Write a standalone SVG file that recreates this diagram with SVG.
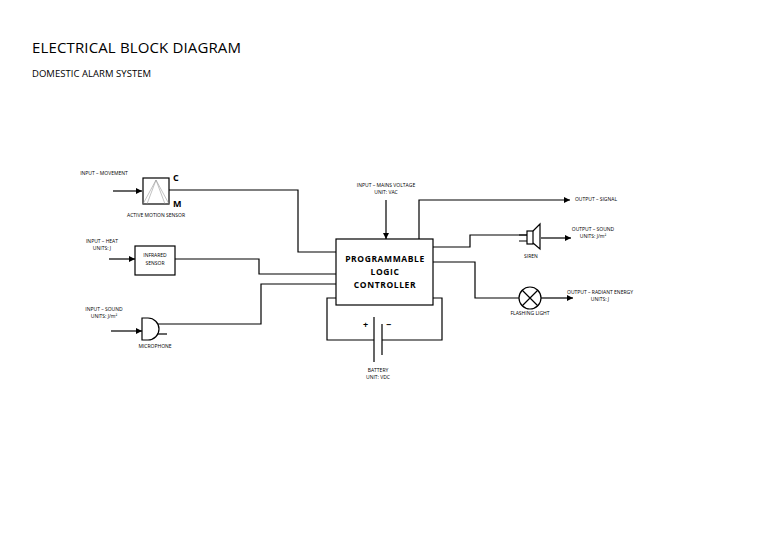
<svg xmlns="http://www.w3.org/2000/svg" width="768" height="543" viewBox="0 0 768 543">
<style>
text{font-family:"Open Sans","Liberation Sans",sans-serif;fill:#000}
.s{font-size:5px;text-anchor:middle}
.ln{fill:none;stroke:#000;stroke-width:1.2}
.bx{fill:#fff;stroke:#000;stroke-width:1.2}
</style>
<defs><marker id="a" viewBox="0 0 10 10" refX="10" refY="5" markerWidth="5" markerHeight="5" orient="auto"><path d="M0,0L10,5L0,10z"/></marker></defs>
<rect width="768" height="543" fill="#fff"/>
<text x="32" y="53" font-size="15" textLength="209">ELECTRICAL BLOCK DIAGRAM</text>
<text x="32" y="77" font-size="9.5" textLength="119">DOMESTIC ALARM SYSTEM</text>
<g id="connectors" class="ln">
<path d="M113,191H142" marker-end="url(#a)"/>
<path d="M109,259H135" marker-end="url(#a)"/>
<path d="M111,331H142" marker-end="url(#a)"/>
<path d="M169,190H298V252H336"/>
<path d="M175,259H259V274H336"/>
<path d="M157,324H261V284H336"/>
<path d="M386,200V239" marker-end="url(#a)"/>
<path d="M336,298H327V340H374M382,340H442V298H433"/>
<path d="M419,239V200H570" marker-end="url(#a)"/>
<path d="M433,247H470V235H527"/>
<path d="M541,238H571" marker-end="url(#a)"/>
<path d="M433,262H475V298H519"/>
<path d="M541,298H573" marker-end="url(#a)"/>
</g>
<g id="motion"><rect class="bx" x="143" y="178" width="26" height="26"/><path d="M143,204L156,180L169,204M147,204L156,180L165,204" stroke="#999" stroke-width="0.6" fill="none"/>
<text x="173" y="181" font-size="9" font-weight="bold">C</text><text x="173" y="207" font-size="9" font-weight="bold">M</text>
<text class="s" x="104" y="175">INPUT – MOVEMENT</text><text class="s" x="156" y="217">ACTIVE MOTION SENSOR</text></g>
<g id="infrared"><rect class="bx" x="135" y="246" width="40" height="29"/><text class="s" x="155" y="257">INFRARED</text><text class="s" x="155" y="265">SENSOR</text>
<text class="s" x="102" y="243">INPUT – HEAT</text><text class="s" x="102" y="250">UNITS: J</text></g>
<g id="microphone"><path class="bx" d="M142,318H148A11,11 0 0 1 148,340H142Z" stroke-width="2"/><path class="ln" d="M157,334H167"/>
<text class="s" x="104" y="311">INPUT – SOUND</text><text class="s" x="104" y="318">UNITS: J/m²</text><text class="s" x="155" y="348">MICROPHONE</text></g>
<g id="plc"><rect class="bx" x="336" y="239" width="97" height="66"/>
<g font-size="8.5" font-weight="bold" text-anchor="middle" letter-spacing="0.6"><text x="385" y="262">PROGRAMMABLE</text><text x="385" y="275">LOGIC</text><text x="385" y="288">CONTROLLER</text></g>
<text class="s" x="386" y="187">INPUT – MAINS VOLTAGE</text><text class="s" x="386" y="194">UNIT: VAC</text></g>
<g id="battery"><path class="ln" d="M374,317V362M382,324V355"/><text x="363" y="328" font-size="9" font-weight="bold">+</text><text x="386" y="328" font-size="9" font-weight="bold">−</text>
<text class="s" x="378" y="372">BATTERY</text><text class="s" x="378" y="379">UNIT: VDC</text></g>
<g id="siren"><rect class="bx" x="527" y="231" width="6" height="13"/><path class="ln" d="M533,231L540,224V249L533,243M519,235H527M519,241H527"/>
<text class="s" x="596" y="201">OUTPUT – SIGNAL</text>
<text class="s" x="593" y="231">OUTPUT – SOUND</text><text class="s" x="593" y="238">UNITS: J/m²</text><text class="s" x="531" y="258">SIREN</text></g>
<g id="light"><circle class="bx" cx="530" cy="298" r="11"/><path class="ln" d="M522,290L538,306M538,290L522,306"/>
<text class="s" x="600" y="294">OUTPUT – RADIANT ENERGY</text><text class="s" x="600" y="301">UNITS: J</text><text class="s" x="530" y="315">FLASHING LIGHT</text></g>
</svg>
